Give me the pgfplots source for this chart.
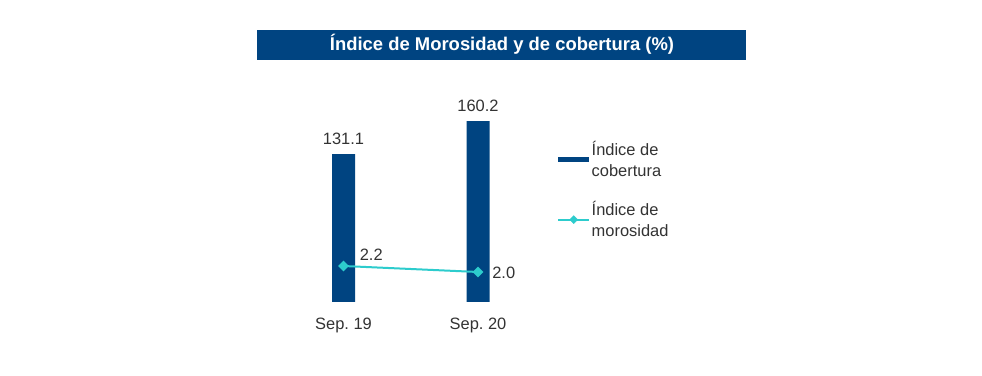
\documentclass[border=0pt]{standalone}
\usepackage{pgfplots}
\pgfplotsset{compat=1.18}
\usepackage{fontspec}
\setmainfont{Liberation Sans}
\definecolor{navy}{HTML}{004481}
\definecolor{aqua}{HTML}{2DCCCD}
\definecolor{txt}{HTML}{333333}
\begin{document}
\begin{tikzpicture}[font=\fontsize{16.5}{21}\selectfont]
\path[use as bounding box, fill=white] (0bp,0bp) rectangle (982bp,376bp);
\fill[navy] (257bp,346bp) rectangle (746bp,316bp);
\node[text=white, font=\fontsize{18.5}{22}\selectfont\bfseries] at (502bp,331.5bp) {Índice de Morosidad y de cobertura (\%)};

\begin{axis}[at={(276.25bp,74bp)}, anchor=south west, scale only axis,
  width=269bp, height=203.2bp,
  xmin=-0.5, xmax=1.5, ymin=0, ymax=180,
  axis line style={draw=none}, tick style={draw=none}, ytick=\empty,
  xtick={0,1}, xticklabels={Sep.\ 19, Sep.\ 20},
  xticklabel style={yshift=-13bp, text=txt},
  /pgf/number format/.cd, fixed, fixed zerofill, precision=1, assume math mode=true, /pgfplots/.cd,
  legend style={draw=none, fill=none, anchor=north west, at={(1.0437,0.80)}, inner sep=0pt,
    row sep=19bp, nodes={text=txt, inner xsep=1.5bp}},
  legend cell align=left,
  ]
\addplot[ybar, bar width=23bp, fill=navy, draw=none, nodes near coords,
  nodes near coords style={text=txt, yshift=6bp},
  legend image code/.code={\fill[navy] (0bp,-2.5bp) rectangle (31bp,2.5bp);}]
  coordinates {(0,131.1) (1,160.2)};
\addlegendentry[align=left]{Índice de\\cobertura}
\addlegendimage{legend image code/.code={\draw[aqua, line width=2bp] (0bp,0bp) -- (31bp,0bp);
  \fill[aqua] (15.5bp,4bp) -- (19.5bp,0bp) -- (15.5bp,-4bp) -- (11.5bp,0bp) -- cycle;}}
\addlegendentry[align=left]{Índice de\\morosidad}
\end{axis}

\begin{axis}[at={(276.25bp,74bp)}, anchor=south west, scale only axis,
  width=269bp, height=203.2bp,
  xmin=-0.5, xmax=1.5, ymin=1, ymax=7.773,
  axis line style={draw=none}, tick style={draw=none}, ytick=\empty, xtick=\empty,
  /pgf/number format/.cd, fixed, fixed zerofill, precision=1, assume math mode=true, /pgfplots/.cd]
\addplot[aqua, line width=2bp, mark=square*, mark size=2.8bp, mark options={rotate=45, solid, fill=aqua},
  nodes near coords, point meta=explicit,
  visualization depends on={value \thisrow{dx}\as\dx},
  visualization depends on={value \thisrow{dy}\as\dy},
  nodes near coords style={anchor=west, xshift=\dx bp, yshift=\dy bp, text=txt}]
  table[x=x, y=y, meta=y] {
x y dx dy
0 2.2 12 11
1 2.0 10 -1
};
\end{axis}
\end{tikzpicture}
\end{document}
